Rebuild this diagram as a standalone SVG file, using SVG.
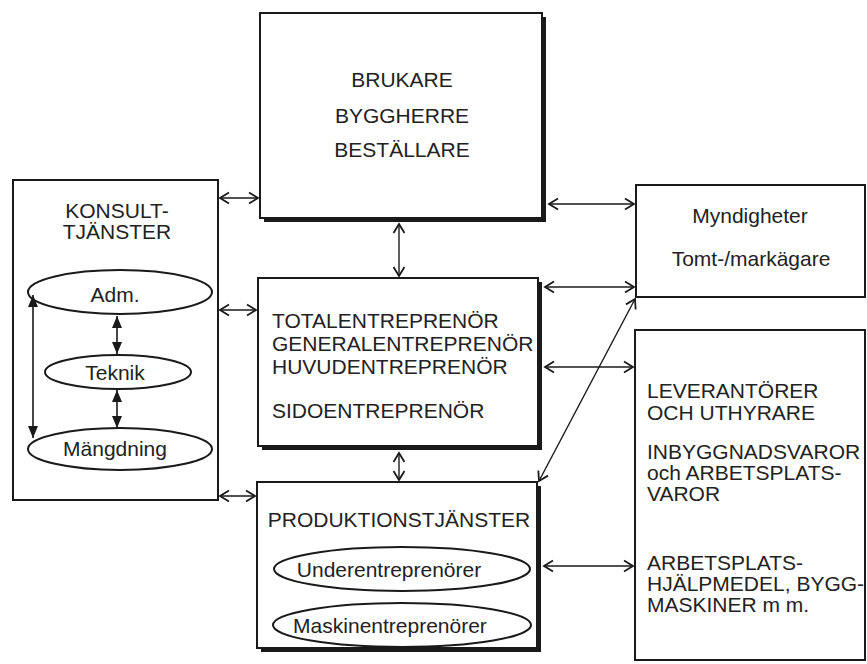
<svg xmlns="http://www.w3.org/2000/svg" width="867" height="664" viewBox="0 0 867 664">
<style>
.box{fill:#fff;stroke:#1a1a1a;stroke-width:2}
.shadow{fill:#1a1a1a}
.ell{fill:#fff;stroke:#1a1a1a;stroke-width:2}
text{font-family:"Liberation Sans",Arial,sans-serif;font-size:21px;fill:#222}
.c{text-anchor:middle}
.conn{stroke:#1a1a1a;stroke-width:1.4;fill:none;marker-start:url(#ch);marker-end:url(#ch)}
.inner{stroke:#1a1a1a;stroke-width:1.6;fill:none;marker-start:url(#tri);marker-end:url(#tri)}
</style>
<defs>
<marker id="ch" viewBox="-11 -7 13 14" markerWidth="13" markerHeight="14" refX="0" refY="0" orient="auto-start-reverse" markerUnits="userSpaceOnUse">
<path d="M-9,-5.5 L0,0 L-9,5.5" fill="none" stroke="#1a1a1a" stroke-width="1.8"/>
</marker>
<marker id="tri" viewBox="-13 -6 14 12" markerWidth="14" markerHeight="12" refX="0" refY="0" orient="auto-start-reverse" markerUnits="userSpaceOnUse">
<path d="M-12,-5 L0,0 L-12,5 Z" fill="#1a1a1a"/>
</marker>
</defs>
<rect width="867" height="664" fill="#fff"/>

<g id="connectors">
<line class="conn" x1="220" y1="198" x2="258" y2="198"/>
<line class="conn" x1="220" y1="310" x2="256" y2="310"/>
<line class="conn" x1="220" y1="496" x2="255" y2="496"/>
<line class="conn" x1="549" y1="204" x2="634" y2="204"/>
<line class="conn" x1="545" y1="287" x2="634" y2="287"/>
<line class="conn" x1="545" y1="367" x2="633" y2="367"/>
<line class="conn" x1="544" y1="566" x2="633" y2="566"/>
<line class="conn" x1="539" y1="481" x2="635" y2="299"/>
<line class="conn" x1="399" y1="224" x2="399" y2="276"/>
<line class="conn" x1="399" y1="453" x2="399" y2="480"/>
</g>

<g id="konsult">
<rect class="box" x="13" y="180" width="205" height="320"/>
<text class="c" x="117" y="218">KONSULT-</text>
<text class="c" x="117" y="239">TJÄNSTER</text>
<g id="adm">
<ellipse class="ell" cx="120" cy="292" rx="92" ry="22"/>
<text class="c" x="115" y="302">Adm.</text>
</g>
<g id="teknik">
<ellipse class="ell" cx="118" cy="372" rx="73" ry="17"/>
<text class="c" x="115" y="380">Teknik</text>
</g>
<g id="mangdning">
<ellipse class="ell" cx="120" cy="449" rx="92" ry="21"/>
<text class="c" x="115" y="456">Mängdning</text>
</g>
<g id="konsult-connectors">
<line class="inner" x1="117" y1="316" x2="117" y2="354"/>
<line class="inner" x1="117" y1="390" x2="117" y2="428"/>
<line class="inner" x1="33" y1="295" x2="33" y2="438"/>
</g>
</g>

<g id="brukare">
<rect class="shadow" x="264" y="17" width="282" height="205"/>
<rect class="box" x="260" y="13" width="282" height="205"/>
<text class="c" x="402" y="87">BRUKARE</text>
<text class="c" x="402" y="123">BYGGHERRE</text>
<text class="c" x="402" y="157">BESTÄLLARE</text>
</g>

<g id="entreprenor">
<rect class="shadow" x="262" y="282" width="280" height="168"/>
<rect class="box" x="258" y="278" width="280" height="168"/>
<text x="272" y="328">TOTALENTREPRENÖR</text>
<text x="272" y="351">GENERALENTREPRENÖR</text>
<text x="272" y="374">HUVUDENTREPRENÖR</text>
<text x="272" y="418">SIDOENTREPRENÖR</text>
</g>

<g id="produktion">
<rect class="shadow" x="261" y="486" width="280" height="166"/>
<rect class="box" x="257" y="482" width="280" height="166"/>
<text class="c" x="399" y="527">PRODUKTIONSTJÄNSTER</text>
<g id="underentreprenorer">
<ellipse class="ell" cx="402" cy="569" rx="128" ry="22"/>
<text class="c" x="389" y="577">Underentreprenörer</text>
</g>
<g id="maskinentreprenorer">
<ellipse class="ell" cx="402" cy="625" rx="129" ry="22"/>
<text class="c" x="390" y="633">Maskinentreprenörer</text>
</g>
</g>

<g id="myndigheter">
<rect class="box" x="636" y="185" width="229" height="112"/>
<text class="c" x="750" y="223">Myndigheter</text>
<text class="c" x="751" y="266">Tomt-/markägare</text>
</g>

<g id="leverantorer">
<rect class="box" x="635" y="330" width="230" height="330"/>
<text x="647" y="398">LEVERANTÖRER</text>
<text x="647" y="420">OCH UTHYRARE</text>
<text x="647" y="459">INBYGGNADSVAROR</text>
<text x="647" y="480">och ARBETSPLATS-</text>
<text x="647" y="501">VAROR</text>
<text x="647" y="570">ARBETSPLATS-</text>
<text x="647" y="591">HJÄLPMEDEL, BYGG-</text>
<text x="647" y="612">MASKINER m m.</text>
</g>
</svg>
